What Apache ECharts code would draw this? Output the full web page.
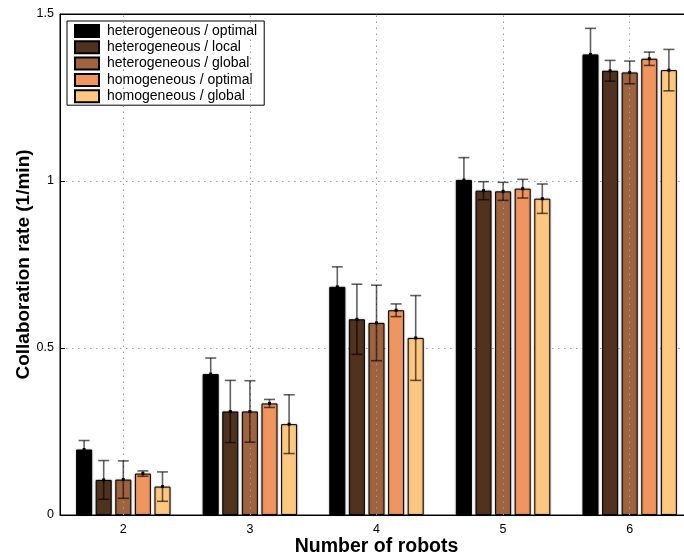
<!DOCTYPE html>
<html>
<head>
<meta charset="utf-8">
<script src="https://cdn.jsdelivr.net/npm/echarts@6/dist/echarts.min.js"></script>
<style>
  html, body { margin: 0; padding: 0; background: #fff; overflow: hidden; width: 684px; height: 559px; }
  /* the frame's right edge runs slightly past the visible area */
  #chart { width: 700px; height: 559px; }
</style>
</head>
<body>
<div id="chart"></div>
<script>
// Number of robots on the x axis
const categories = ['2', '3', '4', '5', '6'];

// Mean collaboration rate (1/min) and its error half-width per configuration
const heteroOptimal = [0.196, 0.422, 0.683, 1.003, 1.379];
const heteroOptimalErr = [0.027, 0.048, 0.060, 0.067, 0.078];
const heteroLocal = [0.105, 0.310, 0.586, 0.971, 1.330];
const heteroLocalErr = [0.058, 0.093, 0.105, 0.027, 0.031];
const heteroGlobal = [0.106, 0.310, 0.575, 0.969, 1.325];
const heteroGlobalErr = [0.056, 0.092, 0.113, 0.027, 0.034];
const homoOptimal = [0.124, 0.334, 0.613, 0.977, 1.366];
const homoOptimalErr = [0.008, 0.012, 0.019, 0.028, 0.020];
const homoGlobal = [0.085, 0.272, 0.530, 0.947, 1.332];
const homoGlobalErr = [0.044, 0.088, 0.127, 0.044, 0.062];

const seriesNames = [
  'heterogeneous / optimal',
  'heterogeneous / local',
  'heterogeneous / global',
  'homogeneous / optimal',
  'homogeneous / global'
];
const seriesValues = [heteroOptimal, heteroLocal, heteroGlobal, homoOptimal, homoGlobal];
const seriesErrors = [heteroOptimalErr, heteroLocalErr, heteroGlobalErr, homoOptimalErr, homoGlobalErr];

// copper colormap steps
const colors = ['#000000', '#50321f', '#9f643f', '#ef955f', '#ffc77f'];

const yTicks = [0, 0.5, 1, 1.5];

const BAR_W = 16;
const BAR_GAP = 0.225;
const CAP_W = 11;
const FONT = '"Liberation Sans", Arial, Helvetica, sans-serif';

const chart = echarts.init(document.getElementById('chart'), null, { renderer: 'canvas' });

const n = seriesNames.length;

const barSeries = seriesNames.map((name, i) => ({
  name: name,
  type: 'bar',
  xAxisIndex: 0,
  barWidth: BAR_W,
  barGap: (BAR_GAP * 100) + '%',
  z: 3,
  itemStyle: {
    color: colors[i],
    borderColor: '#000',
    borderWidth: 1,
    shadowColor: 'rgba(0,0,0,0.35)',
    shadowBlur: 2
  },
  data: seriesValues[i]
}));

const errSeries = seriesNames.map((name, i) => ({
  type: 'custom',
  xAxisIndex: 0,
  z: 5,
  silent: true,
  data: seriesValues[i].map((v, k) => [k, v, seriesErrors[i][k]]),
  renderItem: function (params, api) {
    const k = api.value(0);
    const v = api.value(1);
    const e = api.value(2);
    const step = BAR_W * (1 + BAR_GAP);
    const dx = (i - (n - 1) / 2) * step;
    const pMid = api.coord([k, v]);
    const pHi = api.coord([k, v + e]);
    const pLo = api.coord([k, v - e]);
    const x = pMid[0] + dx;
    const style = { stroke: 'rgba(0,0,0,0.62)', lineWidth: 1.6, fill: null };
    return {
      type: 'group',
      children: [
        { type: 'line', shape: { x1: x, y1: pLo[1], x2: x, y2: pHi[1] }, style: style },
        { type: 'line', shape: { x1: x - CAP_W / 2, y1: pHi[1], x2: x + CAP_W / 2, y2: pHi[1] }, style: style },
        { type: 'line', shape: { x1: x - CAP_W / 2, y1: pLo[1], x2: x + CAP_W / 2, y2: pLo[1] }, style: style },
        { type: 'rect', shape: { x: x - 1.5, y: pMid[1] - 1.5, width: 3, height: 3 }, style: { fill: '#000' } }
      ]
    };
  }
}));

// dotted vertical grid lines at each robot count
const gridLineSeries = {
  type: 'line',
  xAxisIndex: 0,
  data: [],
  z: 1,
  silent: true,
  markLine: {
    silent: true,
    symbol: 'none',
    label: { show: false },
    lineStyle: { color: '#9a9a9a', type: [1.5, 4.5], width: 1 },
    data: categories.map(c => ({ xAxis: c }))
  }
};

chart.setOption({
  animation: false,
  backgroundColor: '#fff',
  textStyle: { fontFamily: FONT },
  grid: {
    left: 60, top: 14, width: 633, height: 501,
    containLabel: false,
    outerBoundsMode: 'none',
    show: true, borderColor: '#000', borderWidth: 1, backgroundColor: 'transparent'
  },
  legend: {
    left: 67, top: 21,
    orient: 'vertical',
    data: seriesNames,
    itemWidth: 24,
    itemHeight: 12,
    itemGap: 2.3,
    padding: [3, 7, 2, 7],
    backgroundColor: '#fff',
    borderColor: '#000',
    borderWidth: 1,
    borderRadius: 0,
    icon: 'rect',
    selectedMode: false,
    textStyle: { fontFamily: FONT, fontSize: 14, color: '#000', padding: [0, 0, 0, 3] }
  },
  xAxis: [
    {
      type: 'category',
      data: categories,
      position: 'bottom',
      name: 'Number of robots',
      nameLocation: 'middle',
      nameGap: 22,
      nameMoveOverlap: false,
      nameTextStyle: { fontFamily: FONT, fontSize: 19.5, fontWeight: 'bold', color: '#000' },
      axisLine: { lineStyle: { color: '#000', width: 1 } },
      axisTick: { inside: true, alignWithLabel: true, length: 5, lineStyle: { color: '#000' } },
      axisLabel: { fontFamily: FONT, fontSize: 12.5, color: '#000', margin: 8 },
      splitLine: { show: false }
    },
    {
      type: 'category',
      data: categories,
      position: 'top',
      axisLine: { lineStyle: { color: '#000', width: 1 } },
      axisTick: { inside: true, alignWithLabel: true, length: 5, lineStyle: { color: '#000' } },
      axisLabel: { show: false },
      splitLine: { show: false }
    }
  ],
  yAxis: {
    type: 'value',
    min: yTicks[0],
    max: yTicks[yTicks.length - 1],
    interval: yTicks[1] - yTicks[0],
    name: 'Collaboration rate (1/min)',
    nameLocation: 'middle',
    nameGap: 27,
    nameMoveOverlap: false,
    nameTextStyle: { fontFamily: FONT, fontSize: 19, fontWeight: 'bold', color: '#000' },
    axisLine: { show: true, lineStyle: { color: '#000', width: 1 } },
    axisTick: { show: true, inside: true, length: 5, lineStyle: { color: '#000' } },
    axisLabel: { fontFamily: FONT, fontSize: 12.5, color: '#000', margin: 6 },
    splitLine: { show: true, lineStyle: { color: '#9a9a9a', type: [1.5, 4.5], width: 1 } }
  },
  series: [gridLineSeries].concat(barSeries, errSeries)
});
</script>
</body>
</html>
